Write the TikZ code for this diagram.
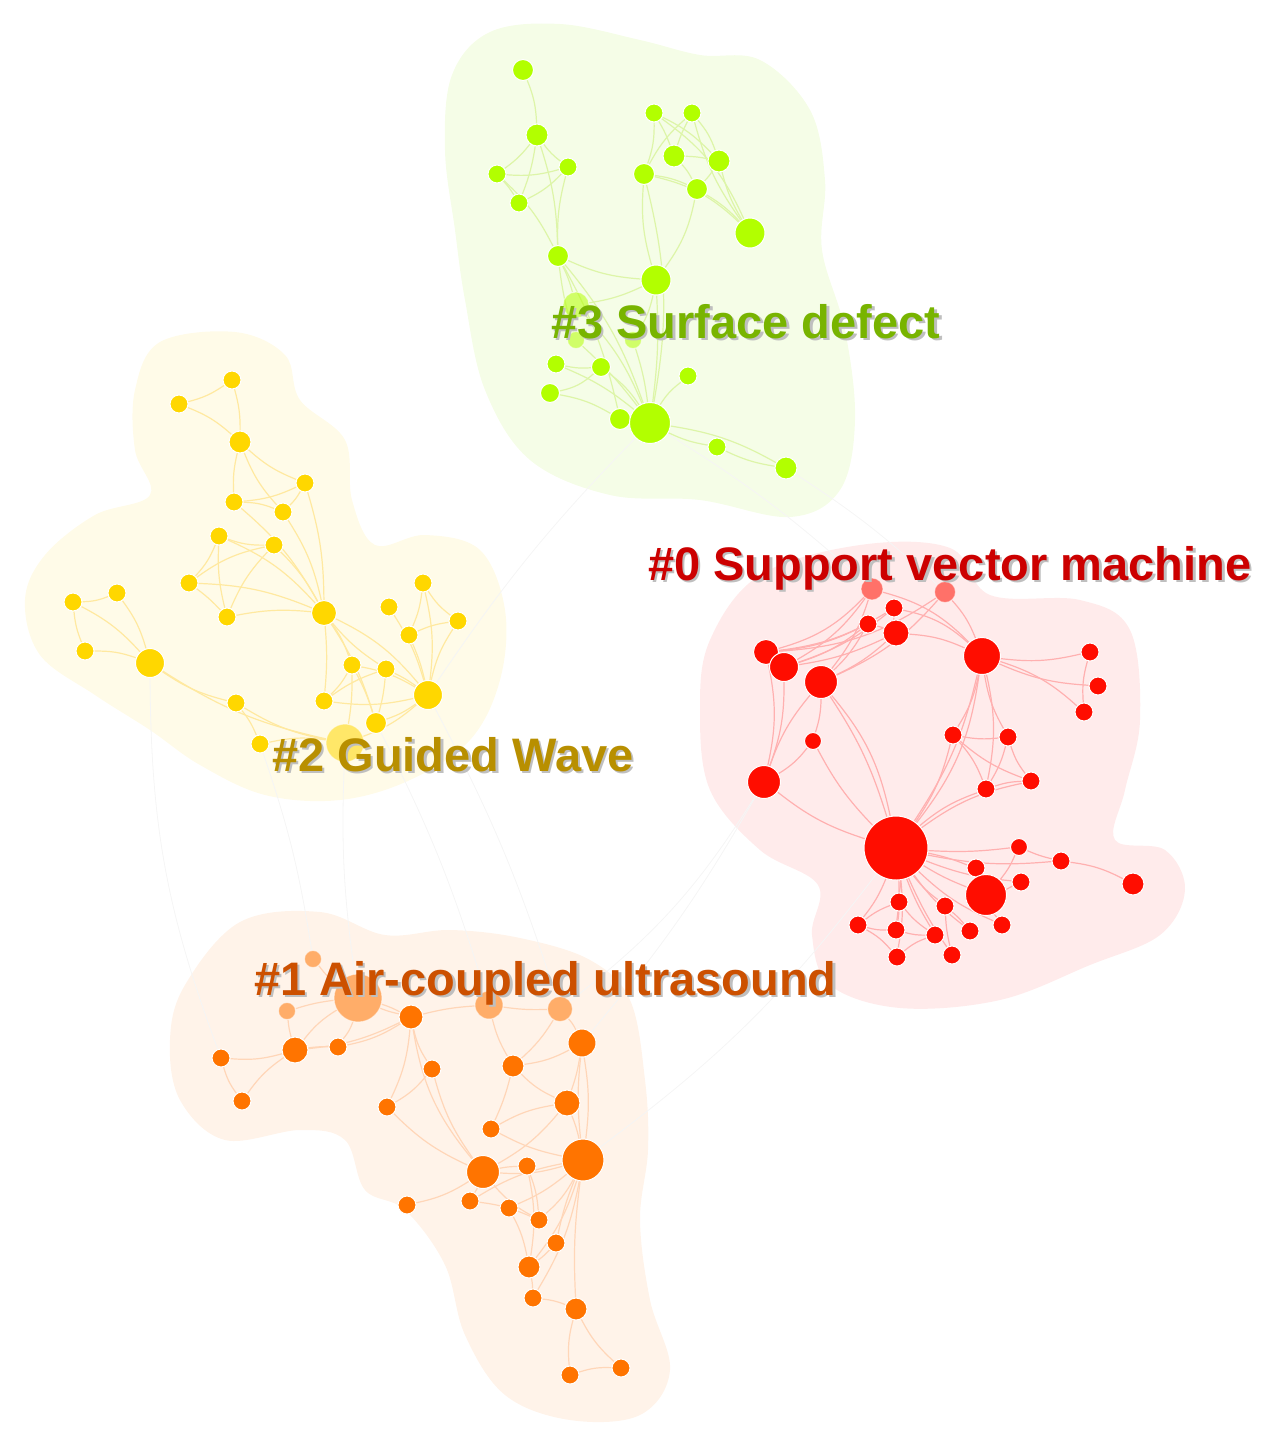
\documentclass[tikz,border=0pt]{standalone}
\usepackage{fontspec}
\setmainfont{Liberation Sans}
\pgfdeclarelayer{hulls}
\pgfdeclarelayer{edges}
\pgfsetlayers{hulls,edges,main}
\definecolor{G}{HTML}{B2FF00}
\definecolor{Y}{HTML}{FFD700}
\definecolor{R}{HTML}{FF0D00}
\definecolor{O}{HTML}{FF7400}
\definecolor{Gh}{HTML}{F5FDE7}
\definecolor{Yh}{HTML}{FFFBE8}
\definecolor{Rh}{HTML}{FFEBEB}
\definecolor{Oh}{HTML}{FFF3E9}
\definecolor{Ge}{HTML}{DDF5A8}
\definecolor{Ye}{HTML}{FFE9A0}
\definecolor{Re}{HTML}{FFB0B0}
\definecolor{Oe}{HTML}{FFD6B8}
\definecolor{Gt}{HTML}{78B400}
\definecolor{Yt}{HTML}{B88F00}
\definecolor{Rt}{HTML}{CC0000}
\definecolor{Ot}{HTML}{CC5000}
\tikzset{
  nb/.style={circle, inner sep=0pt, draw=white, line width=1pt},
  g/.style={nb, fill=G}, yy/.style={nb, fill=Y}, rr/.style={nb, fill=R}, oo/.style={nb, fill=O},
  faded/.style={fill opacity=0.55, draw opacity=0.5},
  ge/.style={draw=Ge, line width=1.2pt},
  ye/.style={draw=Ye, line width=1.2pt},
  re/.style={draw=Re, line width=1.2pt},
  oe/.style={draw=Oe, line width=1.2pt},
  xe/.style={draw=black!4, line width=0.8pt},
  lbl/.style={font=\fontsize{47}{50}\selectfont\bfseries, anchor=base west, inner sep=0pt},
}
\newcommand\shlabel[4]{%
  \node[lbl, text=black!25] at ([xshift=2.5pt,yshift=-2.5pt]#1) {#3};
  \node[lbl, text=#2] (#4) at (#1) {#3};}
\begin{document}
\begin{tikzpicture}[x=1pt,y=-1pt]
\path[use as bounding box] (0,0) rectangle (1267,1444);
% ---------------- hulls
\begin{pgfonlayer}{hulls}
\fill[Gh] plot[smooth cycle, tension=0.6] coordinates {(452,75) (490,32) (560,24) (640,40) (700,55) (760,60) (810,110) (825,180) (822,250) (845,330) (855,420) (840,490) (790,517) (700,500) (610,495) (530,460) (485,390) (465,300) (455,230) (445,150)};
\fill[Yh] plot[smooth cycle, tension=0.6] coordinates {(135,390) (160,342) (235,332) (285,355) (300,400) (345,440) (352,500) (375,545) (425,535) (480,550) (505,610) (500,680) (470,740) (410,780) (340,800) (265,795) (200,765) (150,730) (95,695) (40,655) (25,600) (45,555) (95,515) (150,495) (135,450)};
\fill[Rh] plot[smooth cycle, tension=0.6] coordinates {(710,640) (760,575) (860,545) (950,548) (990,595) (1080,600) (1130,630) (1140,720) (1125,790) (1115,840) (1165,850) (1185,890) (1160,935) (1090,965) (1000,1000) (900,1008) (830,985) (812,935) (818,885) (760,850) (710,790) (700,710)};
\fill[Oh] plot[smooth cycle, tension=0.6] coordinates {(185,985) (240,922) (320,912) (385,935) (450,930) (520,938) (590,960) (630,1000) (645,1080) (648,1150) (640,1220) (650,1300) (670,1370) (640,1415) (570,1420) (505,1395) (465,1335) (445,1265) (405,1210) (365,1190) (345,1140) (300,1130) (225,1140) (180,1100) (170,1040)};
\end{pgfonlayer}
% ---------------- nodes: #3 green
\node[g,minimum size=21] (g1) at (523,70) {};
\node[g,minimum size=22] (g2) at (537,135) {};
\node[g,minimum size=18] (g3) at (497,174) {};
\node[g,minimum size=18] (g4) at (568,167) {};
\node[g,minimum size=18] (g5) at (519,203) {};
\node[g,minimum size=21] (g6) at (558,256) {};
\node[g,minimum size=30] (g7) at (656,280) {};
\node[g,minimum size=18] (g8) at (654,113) {};
\node[g,minimum size=18] (g9) at (692,113) {};
\node[g,minimum size=22] (g10) at (674,156) {};
\node[g,minimum size=22] (g11) at (719,161) {};
\node[g,minimum size=21] (g12) at (644,174) {};
\node[g,minimum size=21] (g13) at (697,189) {};
\node[g,minimum size=30] (g14) at (750,233) {};
\node[g,faded,minimum size=26] (g15) at (576,305) {};
\node[g,faded,minimum size=17] (g15a) at (576,340) {};
\node[g,faded,minimum size=17] (g15b) at (633,340) {};
\node[g,minimum size=18] (g16) at (556,364) {};
\node[g,minimum size=19] (g17) at (601,367) {};
\node[g,minimum size=18] (g18) at (688,376) {};
\node[g,minimum size=19] (g19) at (550,393) {};
\node[g,minimum size=21] (g20) at (620,419) {};
\node[g,minimum size=41] (g21) at (650,423) {};
\node[g,minimum size=18] (g22) at (717,447) {};
\node[g,minimum size=22] (g23) at (786,468) {};
% ---------------- nodes: #2 yellow
\node[yy,minimum size=18] (y1) at (232,380) {};
\node[yy,minimum size=18] (y2) at (179,404) {};
\node[yy,minimum size=22] (y3) at (240,442) {};
\node[yy,minimum size=18] (y4) at (305,483) {};
\node[yy,minimum size=18] (y5) at (234,502) {};
\node[yy,minimum size=18] (y6) at (283,512) {};
\node[yy,minimum size=18] (y7) at (219,536) {};
\node[yy,minimum size=18] (y8) at (274,545) {};
\node[yy,minimum size=18] (y9) at (189,583) {};
\node[yy,minimum size=18] (y10) at (227,617) {};
\node[yy,minimum size=25] (y11) at (324,613) {};
\node[yy,minimum size=18] (y12) at (73,602) {};
\node[yy,minimum size=18] (y13) at (117,593) {};
\node[yy,minimum size=18] (y14) at (85,651) {};
\node[yy,minimum size=29] (y15) at (150,663) {};
\node[yy,minimum size=18] (y16) at (423,583) {};
\node[yy,minimum size=18] (y17) at (389,607) {};
\node[yy,minimum size=18] (y18) at (458,621) {};
\node[yy,minimum size=18] (y19) at (409,635) {};
\node[yy,minimum size=18] (y20) at (352,665) {};
\node[yy,minimum size=18] (y21) at (386,669) {};
\node[yy,minimum size=29] (y22) at (428,695) {};
\node[yy,minimum size=18] (y23) at (324,701) {};
\node[yy,minimum size=21] (y24) at (376,723) {};
\node[yy,minimum size=18] (y25) at (236,703) {};
\node[yy,minimum size=18] (y26) at (260,744) {};
\node[yy,faded,minimum size=38] (y27) at (345,743) {};
% ---------------- nodes: #0 red
\node[rr,faded,minimum size=22] (r1) at (872,589) {};
\node[rr,faded,minimum size=21] (r2) at (945,592) {};
\node[rr,minimum size=18] (r3) at (894,608) {};
\node[rr,minimum size=18] (r4) at (868,624) {};
\node[rr,minimum size=26] (r5) at (896,633) {};
\node[rr,minimum size=25] (r6) at (766,652) {};
\node[rr,minimum size=29] (r7) at (784,667) {};
\node[rr,minimum size=33] (r8) at (821,682) {};
\node[rr,minimum size=37] (r9) at (982,656) {};
\node[rr,minimum size=18] (r10) at (1090,652) {};
\node[rr,minimum size=18] (r11) at (1098,686) {};
\node[rr,minimum size=18] (r12) at (1084,712) {};
\node[rr,minimum size=17] (r13) at (813,741) {};
\node[rr,minimum size=33] (r14) at (764,782) {};
\node[rr,minimum size=18] (r15) at (953,735) {};
\node[rr,minimum size=18] (r16) at (1008,737) {};
\node[rr,minimum size=18] (r17) at (986,789) {};
\node[rr,minimum size=18] (r18) at (1031,781) {};
\node[rr,minimum size=64] (r19) at (896,848) {};
\node[rr,minimum size=17] (r20) at (1019,847) {};
\node[rr,minimum size=18] (r21) at (1061,861) {};
\node[rr,minimum size=22] (r22) at (1133,884) {};
\node[rr,minimum size=18] (r23) at (976,868) {};
\node[rr,minimum size=18] (r24) at (1021,882) {};
\node[rr,minimum size=41] (r25) at (986,895) {};
\node[rr,minimum size=18] (r26) at (899,902) {};
\node[rr,minimum size=18] (r27) at (945,906) {};
\node[rr,minimum size=18] (r28) at (858,925) {};
\node[rr,minimum size=18] (r29) at (896,930) {};
\node[rr,minimum size=18] (r30) at (935,935) {};
\node[rr,minimum size=18] (r31) at (970,931) {};
\node[rr,minimum size=18] (r32) at (1002,925) {};
\node[rr,minimum size=18] (r33) at (897,957) {};
\node[rr,minimum size=18] (r34) at (952,955) {};
% ---------------- nodes: #1 orange
\node[oo,faded,minimum size=17] (o1) at (313,959) {};
\node[oo,faded,minimum size=48] (o2) at (358,998) {};
\node[oo,faded,minimum size=17] (o3) at (287,1011) {};
\node[oo,minimum size=24] (o4) at (411,1017) {};
\node[oo,faded,minimum size=28] (o5) at (489,1005) {};
\node[oo,faded,minimum size=25] (o6) at (560,1009) {};
\node[oo,minimum size=28] (o7) at (582,1043) {};
\node[oo,minimum size=26] (o8) at (295,1050) {};
\node[oo,minimum size=18] (o9) at (338,1047) {};
\node[oo,minimum size=18] (o10) at (221,1058) {};
\node[oo,minimum size=18] (o11) at (432,1069) {};
\node[oo,minimum size=22] (o12) at (513,1066) {};
\node[oo,minimum size=18] (o13) at (242,1101) {};
\node[oo,minimum size=18] (o14) at (387,1107) {};
\node[oo,minimum size=26] (o15) at (567,1103) {};
\node[oo,minimum size=18] (o16) at (491,1129) {};
\node[oo,minimum size=33] (o17) at (483,1172) {};
\node[oo,minimum size=18] (o18) at (527,1166) {};
\node[oo,minimum size=42] (o19) at (583,1160) {};
\node[oo,minimum size=18] (o20) at (407,1205) {};
\node[oo,minimum size=18] (o21) at (470,1201) {};
\node[oo,minimum size=18] (o22) at (509,1208) {};
\node[oo,minimum size=18] (o23) at (539,1220) {};
\node[oo,minimum size=18] (o24) at (556,1243) {};
\node[oo,minimum size=22] (o25) at (529,1267) {};
\node[oo,minimum size=18] (o26) at (533,1298) {};
\node[oo,minimum size=22] (o27) at (576,1309) {};
\node[oo,minimum size=18] (o28) at (570,1375) {};
\node[oo,minimum size=18] (o29) at (621,1368) {};
% ---------------- edges
\begin{pgfonlayer}{edges}
% faint links between clusters
\draw[xe] (y26) to[bend left=5] (o1);
\draw[xe] (y27) to[bend right=5] (o2);
\draw[xe] (y24) to[bend left=5] (o5);
\draw[xe] (y22) to[bend left=5] (o6);
\draw[xe] (r14) to[bend left=10] (o6);
\draw[xe] (r14) to[bend left=5] (o7);
\draw[xe] (r19) to[bend left=8] (o19);
\draw[xe] (g21) to[bend left=5] (r1);
\draw[xe] (g23) to[bend left=5] (r2);
\draw[xe] (g21) to[bend right=5] (y22);
\draw[xe] (y15) to[bend right=10] (o10);
% green
\foreach \a/\b/\c in {g1/g2/10,g2/g3/8,g2/g4/-8,g2/g5/6,g2/g6/8,g3/g4/-10,g3/g5/5,g3/g6/10,g4/g6/-8,g5/g4/-10,g6/g7/-10,g6/g21/10,g6/g20/8,g6/g15/5,g7/g12/10,g7/g13/-12,g7/g15/8,g7/g21/5,g8/g10/5,g8/g11/10,g8/g12/10,g8/g14/15,g9/g10/-5,g9/g12/-10,g9/g11/10,g9/g14/-10,g10/g13/8,g10/g11/5,g12/g13/8,g12/g14/15,g11/g13/5,g11/g14/-8,g13/g14/8,g12/g21/12,g16/g17/-8,g17/g21/10,g19/g17/-15,g19/g20/10,g20/g21/5,g18/g21/-10,g21/g22/-8,g22/g23/-8,g21/g23/10,g16/g21/8,g15/g21/10,g15a/g21/5,g15b/g21/5,g6/g15a/-5,g7/g15b/10}
  \draw[ge] (\a) to[bend left=\c] (\b);
% yellow
\foreach \a/\b/\c in {y1/y2/10,y1/y3/8,y2/y3/10,y3/y4/-10,y3/y6/-10,y3/y5/-8,y4/y5/10,y4/y6/8,y4/y11/8,y5/y6/10,y5/y11/10,y7/y8/-10,y7/y9/10,y7/y11/12,y8/y9/-12,y8/y10/-10,y7/y10/-8,y9/y10/5,y9/y11/10,y10/y11/8,y6/y11/10,y8/y11/8,y12/y13/-10,y12/y14/-8,y12/y15/10,y13/y15/10,y14/y15/10,y15/y25/-10,y25/y26/8,y25/y27/-10,y15/y27/-10,y11/y20/8,y11/y21/-8,y11/y22/12,y11/y23/5,y11/y24/8,y16/y19/8,y16/y18/-10,y16/y22/10,y19/y18/8,y17/y22/8,y19/y22/5,y18/y22/-10,y20/y22/10,y21/y22/5,y23/y22/-10,y24/y22/-8,y20/y24/5,y21/y23/-8,y20/y23/8,y27/y22/-10,y26/y27/10,y21/y24/5,y20/y27/5}
  \draw[ye] (\a) to[bend left=\c] (\b);
% red
\foreach \a/\b/\c in {r19/r8/-8,r19/r8/-14,r19/r14/10,r19/r13/8,r19/r15/-10,r19/r17/10,r19/r18/12,r19/r20/-5,r19/r21/-8,r19/r23/5,r19/r24/-8,r19/r25/-5,r19/r26/5,r19/r27/-8,r19/r28/8,r19/r29/5,r19/r30/-5,r19/r31/-8,r19/r32/-10,r19/r33/8,r19/r34/-5,r19/r9/-10,r19/r9/-15,r9/r1/-15,r9/r2/-10,r9/r3/-15,r9/r5/-10,r9/r10/-10,r9/r11/-10,r9/r12/12,r9/r15/10,r9/r16/-10,r9/r17/12,r10/r12/-10,r6/r1/-15,r6/r2/-15,r6/r3/-12,r6/r4/-10,r7/r1/-12,r7/r4/-10,r7/r5/-8,r7/r3/-10,r8/r1/-10,r8/r2/-12,r8/r4/-8,r8/r5/-8,r7/r14/10,r6/r14/12,r8/r13/8,r13/r14/10,r8/r14/-10,r15/r16/-8,r15/r17/10,r15/r18/-10,r16/r17/8,r16/r18/-10,r17/r18/8,r20/r21/-5,r21/r22/10,r25/r23/5,r25/r24/-5,r25/r32/-5,r26/r28/-8,r28/r29/-8,r28/r33/10,r29/r30/-8,r30/r33/-10,r26/r29/5,r34/r27/5,r26/r30/-8,r27/r31/5,r20/r25/8,r4/r5/5,r3/r5/-5}
  \draw[re] (\a) to[bend left=\c] (\b);
% orange
\foreach \a/\b/\c in {o2/o3/-5,o2/o4/5,o2/o8/-10,o2/o9/10,o2/o1/8,o8/o3/5,o8/o10/10,o8/o13/-10,o10/o13/-10,o8/o9/5,o4/o14/10,o4/o11/-10,o4/o17/-15,o11/o14/10,o11/o17/-10,o14/o17/-10,o5/o6/-5,o5/o12/-8,o6/o7/8,o6/o12/8,o7/o12/10,o7/o15/5,o7/o19/8,o7/o19/-6,o12/o15/-10,o15/o16/-10,o15/o19/5,o15/o17/10,o16/o19/-8,o17/o19/-10,o17/o18/5,o17/o20/10,o17/o21/5,o17/o23/-10,o19/o21/-10,o19/o22/8,o19/o23/10,o19/o24/-5,o19/o25/10,o19/o27/-5,o21/o23/8,o22/o25/8,o24/o25/5,o25/o26/5,o26/o27/8,o27/o28/-10,o27/o29/-10,o28/o29/10,o18/o23/8,o18/o25/10,o4/o5/5,o2/o4/-5,o8/o4/-10,o9/o4/-10,o12/o16/5,o19/o26/10}
  \draw[oe] (\a) to[bend left=\c] (\b);
\end{pgfonlayer}
% ---------------- labels
\shlabel{551,338}{Gt}{\#3 Surface defect}{l3}
\shlabel{272,771}{Yt}{\#2 Guided Wave}{l2}
\shlabel{648,580}{Rt}{\#0 Support vector machine}{l0}
\shlabel{254,995}{Ot}{\#1 Air-coupled ultrasound}{l1}
\end{tikzpicture}
\end{document}
